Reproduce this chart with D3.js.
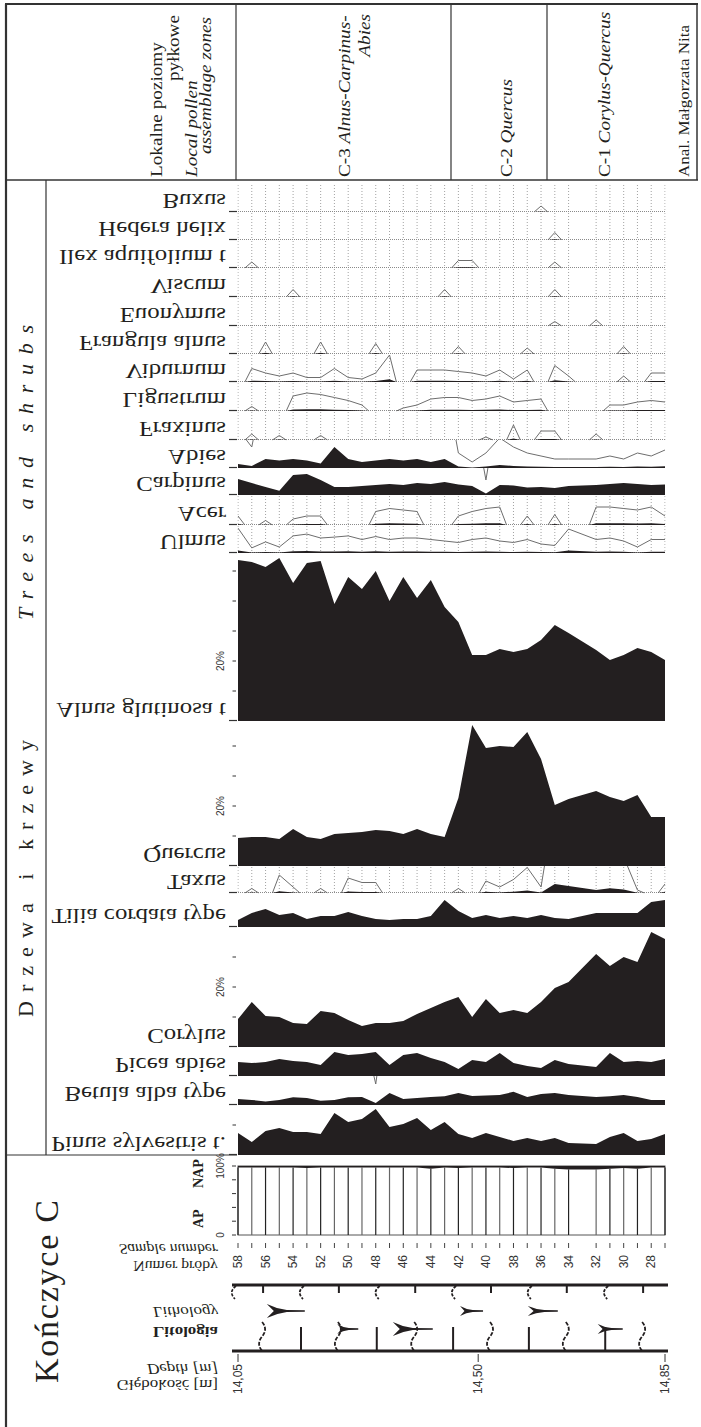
<!DOCTYPE html>
<html><head><meta charset="utf-8">
<script src="https://cdn.jsdelivr.net/npm/d3@7"></script>
<style>body{margin:0;background:#fff}svg{display:block}</style>
</head><body>
<svg id="c" width="701" height="1427"></svg>
<script>
// ---------- DATA ----------
const samples = [58,57,56,55,54,53,52,51,50,49,48,47,46,45,44,43,42,41,40,39,38,37,36,35,34,32,31,30,29,28,27];
const sampleLabels = [58,56,54,52,50,48,46,44,42,40,38,36,34,32,30,28];
const depthTicks = [14.05, 14.50, 14.85];
const depthLabels = ["14,05","14,50","14,85"];

const pinus    = [7.3,4.3,8,9,7.7,7.7,7,14,11,12,15.3,9.3,10.3,12.3,8.3,11,7,5.7,7.3,6,4.7,5.7,4.7,5.7,4,3.7,6,7.3,4.7,5.3,7];
const betula   = [2,1.7,1.2,1.7,2.6,2.3,1.4,1.7,2.6,2.7,0.7,4,2,2.3,2.7,2.9,4,3,3.2,3.3,4.4,2.7,3.7,4,3.3,2.7,2.9,3.3,2.7,1.7,1.7];
const picea    = [4.7,4.3,4.7,5.7,5,4.7,3.7,8,7,7.3,8,3.7,7,7.7,6,4.7,2.3,5.3,4.7,7.7,4.3,3.3,2.7,5.3,4,3,7.7,4.7,5,4.7,5.7];
const corylus  = [9.3,15,10.3,10,8,7.7,12,11.3,9,7,8,8,8.7,11,13,15,16.7,10,16,11.3,12.3,11.3,15,19.7,21.7,31,27,30,28.3,38.3,36];
const tilia    = [2.3,4.7,6,4,4.7,2.7,3.7,3.7,5,3.7,2.7,2.3,2.7,2.7,3.7,9,5.3,3,4,3,3.7,3,4,3,2.7,4.7,4.7,4.7,4.7,8.3,9];
const taxus    = [0,0.15,0,0.6,0.2,0,0.15,0,0.5,0.35,0.35,0,0,0,0,0,0.15,0,0.4,0.2,0.45,0.85,0.2,3,2.3,1,1.6,1.2,0.1,0,0.3];
const quercus  = [9.3,9.7,9.7,9,12.3,9.7,9,10.7,11,11.3,12,11.7,10.7,12.3,10.7,9.7,22.7,47,39.3,40,39.7,44.7,35.7,20.3,22.3,25,23,21.7,23.7,16.3,16.3];
const alnus    = [53.7,53,51.3,54.3,46,52.7,53.3,39,48,44,50,40,48,41,47,38,33,22,22,24,23,24,27,32,29.3,23.7,20.3,22,24.3,23,20.3];
const ulmus    = [0.83,0.17,0.37,0.2,0.57,0.63,0.5,0.53,0.57,0.45,0.55,0.45,0.5,0.5,0.45,0.4,0.35,0.45,0.5,0.4,0.35,0.45,0.3,0.25,0.8,0.45,0.5,0.4,0.2,0.45,0.45];
const acer     = [0.3,0,0.15,0,0.2,0.3,0.3,0,0,0,0.45,0.55,0.5,0.45,0,0,0.3,0.45,0.55,0.6,0,0.3,0,0.35,0,0.6,0.6,0.55,0.5,0.6,0.3];
const carpinus = [5.3,4,2.7,1.4,6.7,7,5,2.7,2.7,3,3.3,3.7,3.3,4,3.7,4.3,3.5,3,0.5,3.3,3.2,2.5,2.7,2.3,3,3.3,3.7,4,3.7,3.3,3.5];
const abies    = [1.3,0.7,3,2.5,3,2.5,1.5,7,3,2,2.5,3,2.5,3,2,3,0.5,0.2,0.5,1,0.7,0.5,0.4,0.3,0.3,0.3,0.4,0.3,0.5,0.4,0.6];
const fraxinus = [0,0.2,0,0.15,0,0,0.15,0,0,0,0,0,0,0,0,0,0,0,0.1,0,0.5,0,0.3,0.3,0,0.2,0,0,0,0,0];
const ligustrum= [0,0.15,0,0,0.5,0.6,0.55,0.45,0.35,0.2,0,0,0.1,0.2,0.4,0.45,0.45,0.35,0.4,0.5,0.3,0.35,0.4,0,0,0,0.2,0.2,0.3,0.35,0.3];
const viburnum = [0,0.45,0.3,0.2,0.3,0.15,0.15,0.45,0.15,0.1,0.3,0.9,0,0.4,0.4,0.4,0.35,0.3,0.2,0.4,0.1,0.4,0,0.55,0.2,0,0,0.2,0,0.3,0.3];
const frangula = [0,0,0.4,0,0,0,0.4,0,0,0,0.35,0,0,0,0,0,0.25,0,0,0,0,0.2,0,0,0,0,0,0.25,0,0,0];
const euonymus = [0,0,0,0,0,0,0,0,0,0,0,0,0,0,0,0,0,0,0,0,0,0,0,0.15,0,0.2,0,0,0,0,0];
const viscum   = [0,0,0,0,0.25,0,0,0,0,0,0,0,0,0,0,0.25,0,0,0,0,0,0,0,0.25,0,0,0,0,0,0,0];
const ilex     = [0,0.2,0,0,0,0,0,0,0,0,0,0,0,0,0,0,0.25,0.25,0,0,0,0,0,0.2,0,0,0,0,0,0,0];
const hedera   = [0,0,0,0,0,0,0,0,0,0,0,0,0,0,0,0,0,0,0,0,0,0,0,0.25,0,0,0,0,0,0,0];
const buxus    = [0,0,0,0,0,0,0,0,0,0,0,0,0,0,0,0,0,0,0,0,0,0,0.2,0,0,0,0,0,0,0,0];
const nap      = [2,2,2,2,2,3,2,2,2,2,2,2,2,2,4,2,3,2,2,2,3,2,2,4,5,5,4,3,4,2,2];

// lithology symbol depths (pattern columns) and detritus arrows
const lithoCols = [14.097,14.168,14.239,14.310,14.382,14.453,14.524,14.595,14.666,14.738,14.809];
const lithoArrows = [14.104,14.236,14.340,14.466,14.593,14.724];
const lithoArrowLen = [38,21,40,23,30,25];
const lithoArrowLevel = [0,1,1,0,0,1];   // 0 = upper row, 1 = lower row

// ---------- DRAW ----------
const svg = d3.select('#c');
const INK = '#231f20';
const serif = "'Liberation Serif','Times New Roman',serif";
const sans = "'Liberation Sans',Arial,sans-serif";
const SX = 1.13;
const PX = 3;       // px per percent
const EX = 10;      // exaggeration factor
const x = d3.scaleLinear().domain([58,27]).range([238,665]);
const xd = d3.scaleLinear().domain([14.05,14.85]).range([238,665]);
const X0 = x(58), X1 = x(27);

function rtext(xx, yy, parts, o){
  const t = svg.append('text')
    .attr('transform', `translate(${xx},${yy}) rotate(-90) scale(${o.sx ?? SX},1)`)
    .attr('text-anchor', o.anchor || 'start')
    .attr('font-family', o.family || serif)
    .attr('font-size', o.size)
    .attr('fill', o.fill || INK);
  if (o.len) t.attr('textLength', o.len/(o.sx ?? SX)).attr('lengthAdjust','spacing');
  if (o.dy) t.attr('dy', o.dy);
  (Array.isArray(parts)?parts:[[parts,{}]]).forEach(([s,st])=>{
    t.append('tspan').text(s)
      .attr('font-style', st.italic||o.italic ? 'italic':'normal')
      .attr('font-weight', st.bold||o.bold ? 'bold':'normal');
  });
  return t;
}
function ftext(xx, yy, s, o){ // vertically mirrored text, right aligned
  return svg.append('text')
    .attr('transform', `translate(${xx},${yy}) scale(${SX},-1)`)
    .attr('text-anchor','end')
    .attr('font-family', serif)
    .attr('font-size', o.size)
    .attr('font-style', o.italic?'italic':'normal')
    .attr('font-weight', o.bold?'bold':'normal')
    .attr('fill', INK)
    .text(s);
}
const line = (x1,y1,x2,y2,w,c,dash)=>{
  const l = svg.append('line').attr('x1',x1).attr('y1',y1).attr('x2',x2).attr('y2',y2)
    .attr('stroke',c||INK).attr('stroke-width',w||1);
  if (dash) l.attr('stroke-dasharray',dash);
  return l;
};

// frame
line(6,4,6,1427,2.2,'#333');
line(5,4,698,4,2,'#333');
line(697,4,697,180,1.5,'#333');
line(5,180,698,180,1.5,'#333');
line(236,4,236,180,1.2,'#333');
line(451,4,451,180,1.2,'#333');
line(547,4,547,180,1.2,'#333');
line(46,180,46,1155,1.2,'#333');
line(5,1155,237,1155,1.2,'#333');

// header texts
rtext(162,177,'Lokalne poziomy',{size:17});
rtext(179,15,'pyłkowe',{size:17,anchor:'end'});
rtext(197,177,'Local pollen',{size:17,italic:true});
rtext(211,17,'assemblage zones',{size:17,italic:true,anchor:'end'});
rtext(350,177,[['C-3 ',{}],['Alnus-Carpinus-',{italic:true}]],{size:17});
rtext(370,14,[['Abies',{italic:true}]],{size:17,anchor:'end'});
rtext(512,177,[['C-2 ',{}],['Quercus',{italic:true}]],{size:17});
rtext(610,177,[['C-1 ',{}],['Corylus-Quercus',{italic:true}]],{size:17});
rtext(689,177,'Anal. Małgorzata Nita',{size:15});

// group labels
rtext(33,620,[['Trees and shrubs',{italic:true}]],{size:22,len:295,sx:1});
rtext(33,1017,'Drzewa i krzewy',{size:22,len:277,sx:1});
rtext(58,1383,'Kończyce C',{size:34,len:183,sx:1});

// ---------- pollen panels ----------
const panels = [
  {name:'Buxus', v:buxus, base:212, top:184, rare:true},
  {name:'Hedera helix', v:hedera, base:240, top:212, rare:true},
  {name:'Ilex aquifolium t', v:ilex, base:268, top:240, rare:true},
  {name:'Viscum', v:viscum, base:297, top:268, rare:true},
  {name:'Euonymus', v:euonymus, base:326, top:297, rare:true},
  {name:'Frangula alnus', v:frangula, base:354, top:326, rare:true},
  {name:'Viburnum', v:viburnum, base:382, top:354, rare:true},
  {name:'Ligustrum', v:ligustrum, base:411, top:382, rare:true},
  {name:'Fraxinus', v:fraxinus, base:440, top:411, rare:true},
  {name:'Abies', v:abies, base:468, top:440},
  {name:'Carpinus', v:carpinus, base:495, top:468},
  {name:'Acer', v:acer, base:525, top:495, rare:true},
  {name:'Ulmus', v:ulmus, base:553, top:525, rare:true},
  {name:'Alnus glutinosa t', v:alnus, base:721, top:553, ticks:[10,20,30,40,50]},
  {name:'Quercus', v:quercus, base:866, top:721, ticks:[10,20,30,40]},
  {name:'Taxus', v:taxus, base:893, top:866, rare:true},
  {name:'Tilia cordata type', v:tilia, base:927, top:893},
  {name:'Corylus', v:corylus, base:1047, top:927, ticks:[10,20,30]},
  {name:'Picea abies', v:picea, base:1076, top:1047},
  {name:'Betula alba type', v:betula, base:1105, top:1076},
  {name:'Pinus sylvestris t.', v:pinus, base:1155, top:1105, ticks:[10]},
];

function runs(vals){
  const out=[]; let cur=null;
  vals.forEach((v,i)=>{
    const xi = x(samples[i]);
    if (v>0){
      if(!cur){ cur=[]; if(i>0){ const xp=x(samples[i-1]); cur.push([xi-Math.min(6.9,(xi-xp)/2),0]); } out.push(cur); }
      cur.push([xi,v]);
    } else if (cur){
      const xp=x(samples[i-1]); cur.push([xp+Math.min(6.9,(xi-xp)/2),0]); cur=null;
    }
  });
  return out;
}

const defs = svg.append('defs');
panels.forEach((p,k)=>{
  const y = d3.scaleLinear().domain([0,1]).range([p.base, p.base-PX]);
  const cid = 'clip'+k;
  defs.append('clipPath').attr('id',cid).append('rect')
    .attr('x',X0-0.5).attr('y',p.top).attr('width',X1-X0+1).attr('height',p.base-p.top+0.5);
  const g = svg.append('g').attr('clip-path',`url(#${cid})`);
  if (p.rare){
    samples.forEach(s=>{
      g.append('line').attr('x1',x(s)).attr('x2',x(s)).attr('y1',p.top+1).attr('y2',p.base)
        .attr('stroke','#8a8a8a').attr('stroke-width',0.8).attr('stroke-dasharray','1,2');
    });
    g.append('line').attr('x1',X0).attr('x2',X1).attr('y1',p.base-0.5).attr('y2',p.base-0.5)
      .attr('stroke','#8a8a8a').attr('stroke-width',1).attr('stroke-dasharray','1,1');
  }
  const rs = runs(p.v);
  const area = d3.area().x(d=>d[0]).y0(p.base).y1(d=>y(d[1]));
  const lineEx = d3.line().x(d=>d[0]).y(d=>y(d[1]*EX));
  rs.forEach(r=>{
    g.append('path').attr('d',lineEx(r)).attr('fill','none').attr('stroke','#6d6d6d').attr('stroke-width',1);
    g.append('path').attr('d',area(r)).attr('fill',INK);
  });
  // baseline tick
  line(229,p.base-0.5,237,p.base-0.5,1.2,'#333');
  (p.ticks||[]).forEach(t=>{
    line(232.5,y(t),236,y(t),1,'#333');
    if (t===20) rtext(224,y(t),'20%',{size:10,family:sans,anchor:'middle',sx:1,fill:'#333'});
  });
  ftext(226, p.base-18, p.name, {size:22});
});

// ---------- AP / NAP ----------
const yAP = d3.scaleLinear().domain([0,100]).range([1235,1166]);
svg.append('rect').attr('x',X0).attr('y',yAP(100)).attr('width',X1-X0).attr('height',yAP(0)-yAP(100))
  .attr('fill','none').attr('stroke','#555').attr('stroke-width',1);
samples.forEach((s,i)=>{
  line(x(s),yAP(0),x(s),yAP(100-nap[i]),1.2,i%2?'#666':'#222');
});
svg.append('path').datum(nap)
  .attr('d', d3.area().x((d,i)=>x(samples[i])).y0(yAP(100)).y1(d=>yAP(100-d))(nap))
  .attr('fill',INK);
[0,20,40,60,80,100].forEach(t=>line(232,yAP(t),236,yAP(t),1,'#333'));
rtext(224,yAP(0),'0',{size:10,family:sans,anchor:'middle',sx:1,fill:'#333'});
rtext(224,yAP(100),'100%',{size:10,family:sans,anchor:'middle',sx:1,fill:'#333'});
rtext(203,1228,'AP',{size:14,bold:true,sx:1});
rtext(203,1188,'NAP',{size:14,bold:true,sx:1});

// sample axis
samples.forEach(s=>line(x(s),1243,x(s),1248,1,'#444'));
sampleLabels.forEach(s=>rtext(x(s),1255,String(s),{size:12,family:sans,anchor:'end',sx:1,dy:'0.35em',fill:'#333'}));
ftext(218,1244,'Sample number',{size:14,italic:true});
ftext(218,1261,'Numer próby',{size:14});

// ---------- lithology ----------
const LT=1285, LB=1351;
line(232,LT,668,LT,3.2,INK);
line(232,LB,668,LB,3.2,INK);
const wig = (cx,y0,h)=>`M${cx-1},${y0} q6,${h*0.25} 0,${h*0.5} q-6,${h*0.25} 0,${h*0.5}`;
const brk = (cx,y0)=>`M${cx+3},${y0+1} q-8,6 -1,13`;
svg.append('path').attr('d',brk(233,LT)).attr('fill','none').attr('stroke',INK).attr('stroke-width',1.6).attr('stroke-dasharray','3,1.5');
lithoCols.forEach((d,i)=>{
  const cx = xd(d);
  if (i%2===0){
    line(cx,LT,cx,LT+8,2,INK);
    svg.append('path').attr('d',wig(cx,LB-29,29)).attr('fill','none').attr('stroke',INK).attr('stroke-width',1.8).attr('stroke-dasharray','4,1.5');
  } else {
    svg.append('path').attr('d',brk(cx,LT)).attr('fill','none').attr('stroke',INK).attr('stroke-width',1.8).attr('stroke-dasharray','3,1.5');
    line(cx,LB-24,cx,LB,2,INK);
  }
});
lithoArrows.forEach((d,i)=>{
  const cx = xd(d), yy = lithoArrowLevel[i] ? 1329 : 1311;
  const L = lithoArrowLen[i], w = Math.min(20, L*0.55), h = L>30 ? 7 : 5;
  svg.append('path')
    .attr('d',`M${cx},${yy-h} Q${cx+w*0.5},${yy-h*0.3} ${cx+w},${yy-0.9} L${cx+L},${yy-0.7} L${cx+L},${yy+0.7} L${cx+w},${yy+0.9} Q${cx+w*0.5},${yy+h*0.3} ${cx},${yy+h} L${cx+w*0.35},${yy} Z`)
    .attr('fill',INK);
});
ftext(218,1307,'Lithology',{size:15,italic:true});
ftext(218,1327,'Litologia',{size:15,bold:true});

// depth axis
depthTicks.forEach((d,i)=>{
  line(xd(d),1354,xd(d),1362,1,'#333');
  rtext(xd(d),1364,depthLabels[i],{size:12,family:sans,anchor:'end',sx:1,dy:'0.35em',fill:'#333'});
});
ftext(218,1364,'Depth [m]',{size:15,italic:true});
ftext(218,1380,'Głębokość [m]',{size:15});
</script>
</body></html>
